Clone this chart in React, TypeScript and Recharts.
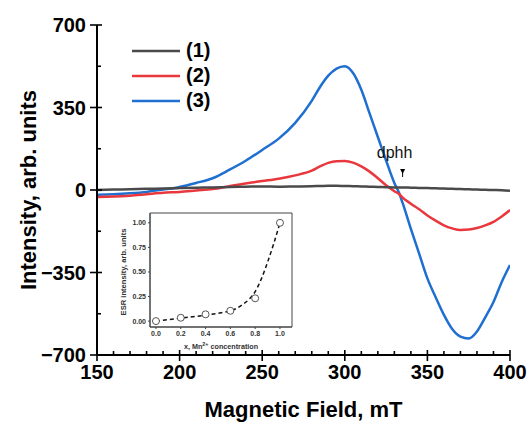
import React from 'react';
import { ComposedChart, LineChart, Line, XAxis, YAxis, Legend, ReferenceDot, ReferenceArea, Scatter, Label } from 'recharts';

const FONT = '"Liberation Sans", Arial, Helvetica, sans-serif';

// ---- main spectrum data ----
const field = [150, 160, 170, 180, 190, 200, 210, 220, 230, 240, 250, 260, 270, 280, 285, 290, 295, 300, 305, 310, 315, 320, 325, 330, 333, 335, 340, 345, 350, 355, 360, 365, 370, 375, 380, 385, 390, 395, 400];
const series1 = [0, 2, 3, 5, 6, 8, 10, 11, 13, 14, 15, 14, 15, 16, 17, 18, 18, 17, 16, 15, 14, 13, 12, 11, 11, 11, 10, 9, 8, 7, 6, 5, 4, 3, 2, 1, 0, -1, -3];
const series2 = [-30, -28, -24, -18, -12, -8, -2, 4, 16, 28, 38, 48, 62, 82, 100, 115, 122, 123, 116, 100, 78, 50, 20, -5, -18, -32, -58, -82, -108, -130, -150, -163, -170, -168, -161, -150, -135, -112, -85];
const series3 = [-20, -18, -14, -8, 2, 13, 30, 50, 85, 124, 170, 218, 285, 378, 437, 485, 515, 525, 496, 425, 325, 225, 125, 30, -15, -55, -165, -270, -375, -455, -530, -590, -622, -630, -600, -540, -475, -390, -318];
const seriesNames = ['(1)', '(2)', '(3)'];
const seriesColors = ['#4a4a4a', '#e8383d', '#1f6fd1'];

const xTicks = [150, 160, 170, 180, 190, 200, 210, 220, 230, 240, 250, 260, 270, 280, 290, 300, 310, 320, 330, 340, 350, 360, 370, 380, 390, 400];
const xMajor = [150, 200, 250, 300, 350, 400];
const yTicks = [-700, -525, -350, -175, 0, 175, 350, 525, 700];
const yMajor = [-700, -350, 0, 350, 700];

const dphhField = 335;
const dphhValue = 72;

// ---- inset data ----
const insetConc = [0, 0.2, 0.4, 0.6, 0.8, 1.0];
const insetEsr = [0.0, 0.034, 0.069, 0.105, 0.232, 1.0];
const fitConc = [0, 0.1, 0.2, 0.3, 0.4, 0.5, 0.6, 0.65, 0.7, 0.75, 0.8, 0.85, 0.9, 0.95, 1.0];
const fitEsr = [0, 0.015, 0.03, 0.045, 0.06, 0.08, 0.105, 0.13, 0.17, 0.22, 0.3, 0.43, 0.6, 0.79, 1.0];
const insetXTicks = [0, 0.2, 0.4, 0.6, 0.8, 1.0];
const insetYTicks = [0, 0.25, 0.5, 0.75, 1.0];
const insetXDomain = [-0.048, 1.097];
const insetYDomain = [-0.06, 1.1];

const mainData = field.map((f, i) => ({ field: f, s1: series1[i], s2: series2[i], s3: series3[i] }));
const pointData = insetConc.map((c, i) => ({ x: c, y: insetEsr[i] }));
const fitData = fitConc.map((c, i) => ({ x: c, y: fitEsr[i] }));

const fmtY = (v: number) => (v < 0 ? '\u2212' + Math.abs(v) : String(v));

const LeftTick = (props: any) => {
  const { x, y, payload } = props;
  const v = payload.value;
  const major = yMajor.includes(v);
  return (
    <g>
      {major ? (
        <line x1={x - 7} x2={x + 5} y1={y} y2={y} stroke="#000" strokeWidth={1.6} />
      ) : (
        <line x1={x} x2={x + 4} y1={y} y2={y} stroke="#000" strokeWidth={1.6} />
      )}
      {major && (
        <text x={x - 11} y={y} dy="0.36em" textAnchor="end" fontFamily={FONT} fontWeight="bold" fontSize={20} fill="#000">
          {fmtY(v)}
        </text>
      )}
    </g>
  );
};

const BottomTick = (props: any) => {
  const { x, y, payload } = props;
  const v = payload.value;
  const major = xMajor.includes(v);
  return (
    <g>
      {major ? (
        <line x1={x} x2={x} y1={y - 5} y2={y + 6} stroke="#000" strokeWidth={1.6} />
      ) : (
        <line x1={x} x2={x} y1={y - 4} y2={y} stroke="#000" strokeWidth={1.6} />
      )}
      {major && (
        <text x={x} y={y + 24} textAnchor="middle" fontFamily={FONT} fontWeight="bold" fontSize={20} fill="#000">
          {v}
        </text>
      )}
    </g>
  );
};

const TopTick = (props: any) => {
  const { x, y, payload } = props;
  const major = xMajor.includes(payload.value);
  return <line x1={x} x2={x} y1={y} y2={y + (major ? 7 : 4)} stroke="#000" strokeWidth={1.6} />;
};

const RightTick = (props: any) => {
  const { x, y, payload } = props;
  const major = yMajor.includes(payload.value);
  return <line x1={x} x2={x - (major ? 7 : 4)} y1={y} y2={y} stroke="#000" strokeWidth={1.6} />;
};

const renderLegend = () => (
  <div style={{ fontFamily: FONT }}>
    {seriesNames.map((n, i) => (
      <div key={n} style={{ display: 'flex', alignItems: 'center', height: 25 }}>
        <svg width={48} height={6} style={{ display: 'block' }}>
          <line x1={0} x2={48} y1={3} y2={3} stroke={seriesColors[i]} strokeWidth={2.5} />
        </svg>
        <span style={{ marginLeft: 6, fontSize: 20, fontWeight: 'bold', color: '#000', lineHeight: '25px' }}>{n}</span>
      </div>
    ))}
  </div>
);

const DphhShape = (props: any) => {
  const { cx, cy } = props;
  return (
    <g>
      <text x={cx - 8} y={cy - 15} textAnchor="middle" fontFamily={FONT} fontSize={16} fill="#111">
        dphh
      </text>
      <polygon points={`${cx - 2.5},${cy - 4} ${cx + 2.5},${cy - 4} ${cx},${cy + 1}`} fill="#000" />
      <line x1={cx} x2={cx} y1={cy} y2={cy + 4} stroke="#000" strokeWidth={1} />
    </g>
  );
};

const InsetYTick = (props: any) => {
  const { x, y, payload } = props;
  return (
    <g>
      <line x1={x - 2} x2={x} y1={y} y2={y} stroke="#444" strokeWidth={1} />
      <text x={x - 4} y={y} dy="0.36em" textAnchor="end" fontFamily={FONT} fontWeight="bold" fontSize={7} fill="#333">
        {payload.value.toFixed(2)}
      </text>
    </g>
  );
};

const InsetXTick = (props: any) => {
  const { x, y, payload } = props;
  return (
    <g>
      <line x1={x} x2={x} y1={y} y2={y + 2} stroke="#444" strokeWidth={1} />
      <text x={x} y={y + 9} textAnchor="middle" fontFamily={FONT} fontWeight="bold" fontSize={7} fill="#333">
        {payload.value.toFixed(1)}
      </text>
    </g>
  );
};

export default function App() {
  return (
    <div style={{ position: 'absolute', left: 0, top: 0, width: 529, height: 426, background: '#fff' }}>
      <div style={{ position: 'absolute', left: 0, top: 0 }}>
        <LineChart width={529} height={426} data={mainData} margin={{ top: 25, right: 19, bottom: 41, left: 37 }}>
          <XAxis
            dataKey="field"
            type="number"
            domain={[150, 400]}
            ticks={xTicks}
            interval={0}
            allowDataOverflow
            height={30}
            tickSize={0}
            tickMargin={0}
            tickLine={false}
            axisLine={{ stroke: '#000', strokeWidth: 2 }}
            tick={<BottomTick />}
          >
            <Label
              content={(p: any) => {
                const vb = p.viewBox;
                return (
                  <text x={vb.x + vb.width / 2} y={vb.y + 62} textAnchor="middle" fontFamily={FONT} fontWeight="bold" fontSize={22} fill="#000">
                    Magnetic Field, mT
                  </text>
                );
              }}
            />
          </XAxis>
          <XAxis
            xAxisId="top"
            dataKey="field"
            orientation="top"
            type="number"
            domain={[150, 400]}
            ticks={xTicks}
            interval={0}
            allowDataOverflow
            height={0}
            tickSize={0}
            tickMargin={0}
            tickLine={false}
            axisLine={{ stroke: '#000', strokeWidth: 2 }}
            tick={<TopTick />}
          />
          <YAxis
            type="number"
            domain={[-700, 700]}
            ticks={yTicks}
            interval={0}
            allowDataOverflow
            width={60}
            tickSize={0}
            tickMargin={0}
            tickLine={false}
            axisLine={{ stroke: '#000', strokeWidth: 2 }}
            tick={<LeftTick />}
          >
            <Label
              content={(p: any) => {
                const vb = p.viewBox;
                const cx = vb.x - 9;
                const cy = vb.y + vb.height / 2;
                return (
                  <text x={cx} y={cy} transform={`rotate(-90 ${cx} ${cy})`} textAnchor="middle" dominantBaseline="central" fontFamily={FONT} fontWeight="bold" fontSize={22} fill="#000">
                    Intensity, arb. units
                  </text>
                );
              }}
            />
          </YAxis>
          <YAxis
            yAxisId="right"
            orientation="right"
            type="number"
            domain={[-700, 700]}
            ticks={yTicks}
            interval={0}
            allowDataOverflow
            width={0}
            tickSize={0}
            tickMargin={0}
            tickLine={false}
            axisLine={{ stroke: '#000', strokeWidth: 2 }}
            tick={<RightTick />}
          />
          <Legend layout="horizontal" verticalAlign="middle" align="center" wrapperStyle={{ top: 38, left: 132, width: 120, height: 80 }} content={renderLegend} />
          <Line dataKey="s3" type="monotone" stroke={seriesColors[2]} strokeWidth={2.5} dot={false} isAnimationActive={false} />
          <Line dataKey="s2" type="monotone" stroke={seriesColors[1]} strokeWidth={2.5} dot={false} isAnimationActive={false} />
          <Line dataKey="s1" type="monotone" stroke={seriesColors[0]} strokeWidth={2.5} dot={false} isAnimationActive={false} />
          <ReferenceDot x={dphhField} y={dphhValue} r={0} shape={<DphhShape />} />
        </LineChart>
      </div>
      <div style={{ position: 'absolute', left: 100, top: 205 }}>
        <ComposedChart width={200} height={150} margin={{ top: 8, right: 8, bottom: 8, left: 20 }}>
          <XAxis
            dataKey="x"
            type="number"
            domain={insetXDomain}
            ticks={insetXTicks}
            interval={0}
            allowDataOverflow
            height={20}
            tickSize={0}
            tickMargin={0}
            tickLine={false}
            axisLine={{ stroke: '#444', strokeWidth: 1 }}
            tick={<InsetXTick />}
          >
            <Label
              content={(p: any) => {
                const vb = p.viewBox;
                return (
                  <text x={vb.x + vb.width / 2} y={vb.y + 22} textAnchor="middle" fontFamily={FONT} fontWeight="bold" fontSize={7.2} fill="#333">
                    x, Mn<tspan dy={-2.8} fontSize={5.5}>2+</tspan><tspan dy={2.8}> concentration</tspan>
                  </text>
                );
              }}
            />
          </XAxis>
          <YAxis
            type="number"
            domain={insetYDomain}
            ticks={insetYTicks}
            interval={0}
            allowDataOverflow
            width={30}
            tickSize={0}
            tickMargin={0}
            tickLine={false}
            axisLine={{ stroke: '#444', strokeWidth: 1 }}
            tick={<InsetYTick />}
          >
            <Label
              content={(p: any) => {
                const vb = p.viewBox;
                const cx = vb.x + 3;
                const cy = vb.y + vb.height / 2 + 2;
                return (
                  <text x={cx} y={cy} transform={`rotate(-90 ${cx} ${cy})`} textAnchor="middle" dominantBaseline="central" fontFamily={FONT} fontWeight="bold" fontSize={7.6} fill="#333">
                    ESR intensity, arb. units
                  </text>
                );
              }}
            />
          </YAxis>
          <ReferenceArea
            x1={insetXDomain[0]}
            x2={insetXDomain[1]}
            y1={insetYDomain[0]}
            y2={insetYDomain[1]}
            fill="none"
            fillOpacity={0}
            stroke="#444"
            strokeWidth={1}
            ifOverflow="extendDomain"
          />
          <Line data={fitData} dataKey="y" type="monotone" stroke="#111" strokeWidth={1.5} strokeDasharray="4 3" dot={false} isAnimationActive={false} />
          <Scatter
            data={pointData}
            dataKey="y"
            isAnimationActive={false}
            shape={(p: any) => <circle cx={p.cx} cy={p.cy} r={3.5} fill="#fff" stroke="#555" strokeWidth={1} />}
          />
        </ComposedChart>
      </div>
    </div>
  );
}
